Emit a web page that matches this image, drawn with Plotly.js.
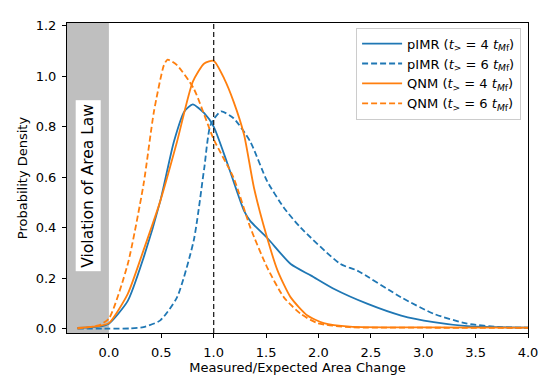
<!DOCTYPE html>
<html><head><meta charset="utf-8">
<script src="https://cdn.plot.ly/plotly-3.0.1.min.js"></script>
<style>body{margin:0;background:#fff}#c{width:549px;height:378px}</style>
</head><body><div id="c"></div>
<script>
const pimr4X = [-0.3,-0.1,0.0,0.18,0.33,0.49,0.62,0.72,0.80,0.91,1.0,1.13,1.29,1.35,1.51,1.735,1.93,2.15,2.47,2.79,3.10,3.42,3.7,4.0];
const pimr4Y = [0.003,0.008,0.02,0.11,0.28,0.505,0.74,0.86,0.888,0.853,0.80,0.655,0.466,0.426,0.36,0.256,0.21,0.157,0.098,0.052,0.026,0.01,0.006,0.004];
const pimr6X = [-0.3,0.0,0.2,0.33,0.49,0.65,0.81,0.91,0.97,1.07,1.19,1.35,1.51,1.67,1.83,2.21,2.37,2.79,3.10,3.42,3.74,4.0];
const pimr6Y = [0.0,0.0,0.001,0.006,0.033,0.124,0.35,0.636,0.807,0.86,0.833,0.74,0.584,0.479,0.40,0.256,0.23,0.124,0.059,0.02,0.006,0.004];
const qnm4X = [-0.3,-0.1,0.0,0.18,0.33,0.49,0.65,0.80,0.91,1.0,1.10,1.19,1.29,1.385,1.51,1.61,1.735,1.895,2.05,2.3,3.0,4.0];
const qnm4Y = [0.003,0.01,0.022,0.138,0.31,0.505,0.74,0.977,1.05,1.06,0.99,0.899,0.768,0.557,0.36,0.23,0.124,0.052,0.022,0.008,0.005,0.004];
const qnm6X = [-0.3,-0.1,0.0,0.18,0.33,0.43,0.525,0.56,0.65,0.81,1.0,1.19,1.35,1.51,1.67,1.83,1.99,2.3,3.0,4.0];
const qnm6Y = [0.0,0.013,0.04,0.256,0.57,0.86,1.043,1.065,1.043,0.95,0.75,0.597,0.40,0.243,0.124,0.059,0.022,0.006,0.004,0.003];
const names = ['pIMR (<i>t</i><sub>></sub> = 4 <i>t</i><sub><i>M</i>f</sub>)','pIMR (<i>t</i><sub>></sub> = 6 <i>t</i><sub><i>M</i>f</sub>)','QNM (<i>t</i><sub>></sub> = 4 <i>t</i><sub><i>M</i>f</sub>)','QNM (<i>t</i><sub>></sub> = 6 <i>t</i><sub><i>M</i>f</sub>)'];
const xTicks = [0,0.5,1,1.5,2,2.5,3,3.5,4];
const yTicks = [0,0.2,0.4,0.6,0.8,1.0,1.2];
const blue='#1f77b4', orange='#ff7f0e';
const mk=(x,y,n,c,d)=>({x:x,y:y,name:n,type:'scatter',mode:'lines',line:{color:c,width:1.8,dash:d,shape:'spline',smoothing:0.6}});
const data=[mk(pimr4X,pimr4Y,names[0],blue,'solid'),mk(pimr6X,pimr6Y,names[1],blue,'6px,3px'),mk(qnm4X,qnm4Y,names[2],orange,'solid'),mk(qnm6X,qnm6Y,names[3],orange,'6px,3px')];
const ax={showline:true,linecolor:'#000',linewidth:1,mirror:true,ticks:'outside',ticklen:4,tickcolor:'#000',showgrid:false,zeroline:false,ticklabelstandoff:3,tickfont:{size:13,color:'#000'}};
const layout={width:549,height:378,margin:{l:67,r:21,t:23,b:45},paper_bgcolor:'#fff',plot_bgcolor:'#fff',
font:{family:'DejaVu Sans',color:'#000'},
xaxis:Object.assign({},ax,{range:[-0.4,4.0],tickvals:xTicks,tickformat:'.1f',title:{text:'Measured/Expected Area Change',font:{size:13},standoff:3}}),
yaxis:Object.assign({},ax,{range:[-0.017,1.21],tickvals:yTicks,tickformat:'.1f',title:{text:'Probability Density',font:{size:13},standoff:5}}),
showlegend:true,
legend:{x:0.985,y:0.985,xanchor:'right',yanchor:'top',bgcolor:'rgba(255,255,255,0.8)',bordercolor:'#ccc',borderwidth:1,font:{size:13},tracegroupgap:0,itemwidth:40},
shapes:[{type:'rect',xref:'x',yref:'paper',x0:-0.4,x1:0,y0:0,y1:1,fillcolor:'#bfbfbf',line:{width:0},layer:'below'},
{type:'line',xref:'x',yref:'paper',x0:1,x1:1,y0:0,y1:1,line:{color:'#222',width:1.3,dash:'5px,3px'}}],
annotations:[{xref:'x',yref:'paper',x:-0.2,y:0.475,text:'Violation of Area Law',textangle:-90,showarrow:false,font:{size:15.5,color:'#000'},bgcolor:'#fff',borderpad:3}]};
Plotly.newPlot('c',data,layout,{displayModeBar:false});
</script></body></html>
